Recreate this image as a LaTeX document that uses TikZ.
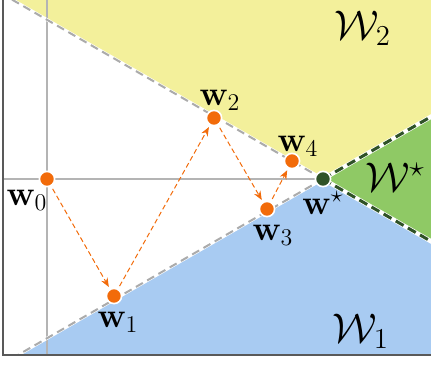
\documentclass[tikz,border=0pt]{standalone}
\usepackage{amsmath}
\usepackage{amssymb}
\usepackage{tikz}
\usetikzlibrary{arrows.meta}
\definecolor{regyellow}{HTML}{F3F09B}
\definecolor{regblue}{HTML}{A8CBF2}
\definecolor{reggreen}{HTML}{8FC965}
\definecolor{steporange}{HTML}{F26B0A}
\definecolor{optgreen}{HTML}{2F5227}
\definecolor{bndgray}{HTML}{ABABAB}
\definecolor{gridgray}{HTML}{B4B4B4}

\begin{document}
\begin{tikzpicture}[x=0.5pt,y=-0.5pt,font=\fontsize{17}{19}\selectfont,
  dot/.style={circle,fill=steporange,draw=white,line width=0.8pt,inner sep=0pt,minimum size=7.6pt},
  stepline/.style={draw=steporange,line width=0.5pt,dash pattern=on 2.5pt off 1.5pt,
    -{Stealth[length=4.5pt,width=3.6pt]},shorten >=1pt,shorten <=1.5pt},
  region/.style={font=\fontsize{20}{24}\selectfont}]
  \useasboundingbox (0,0) rectangle (431,364);
  \coordinate (ws) at (323,179);

  % regions
  \begin{scope}
    \clip (3,0) rectangle (431,355);
    \fill[regyellow] (-100,-65) -- (ws) -- (531,59) -- (531,-100) -- (-100,-100) -- cycle;
    \fill[regblue] (-100,423) -- (ws) -- (531,299) -- (531,500) -- (-100,500) -- cycle;
    \fill[reggreen] (ws) -- (531,59) -- (531,299) -- cycle;
    % axes
    \draw[gridgray, line width=0.6pt] (47,0) -- (47,355);
    \draw[gridgray, line width=0.6pt] (3,179) -- (ws);
    % boundaries
    \draw[white, line width=1.6pt] (-100,-65) -- (ws) -- (-100,423);
    \draw[bndgray, line width=1pt, dash pattern=on 4pt off 2.5pt] (ws) -- (-100,-65);
    \draw[bndgray, line width=1pt, dash pattern=on 4pt off 2.5pt] (ws) -- (-100,423);
    \draw[white, line width=2.2pt] (531,59) -- (ws) -- (531,299);
    \draw[optgreen, line width=1.5pt, dash pattern=on 4.5pt off 2.5pt] (ws) -- (531,59);
    \draw[optgreen, line width=1.5pt, dash pattern=on 4.5pt off 2.5pt] (ws) -- (531,299);
  \end{scope}

  % frame
  \draw[black!65, line width=0.7pt] (3,0) -- (3,355) -- (431,355);

  % iterates
  \node[dot] (w0) at (47,179) {};
  \node[dot] (w1) at (114,296) {};
  \node[dot] (w2) at (214,118) {};
  \node[dot] (w3) at (267,209) {};
  \node[dot] (w4) at (292,161) {};
  \node[dot, fill=optgreen] (wopt) at (ws) {};

  \foreach \a/\b in {w0/w1, w1/w2, w2/w3, w3/w4}
    \draw[stepline] (\a) -- (\b);

  % labels
  \node (lw0) at (27,200) {$\mathbf{w}_0$};
  \node (lw1) at (118,322) {$\mathbf{w}_1$};
  \node (lw2) at (220,100) {$\mathbf{w}_2$};
  \node (lw3) at (273,235) {$\mathbf{w}_3$};
  \node (lw4) at (298,146) {$\mathbf{w}_4$};
  \node (lwopt) at (323,203) {$\mathbf{w}^\star$};

  \node[region] (lW2) at (363,28) {$\mathcal{W}_2$};
  \node[region] (lWopt) at (395,177) {$\mathcal{W}^\star$};
  \node[region] (lW1) at (361,331) {$\mathcal{W}_1$};
\end{tikzpicture}
\end{document}
